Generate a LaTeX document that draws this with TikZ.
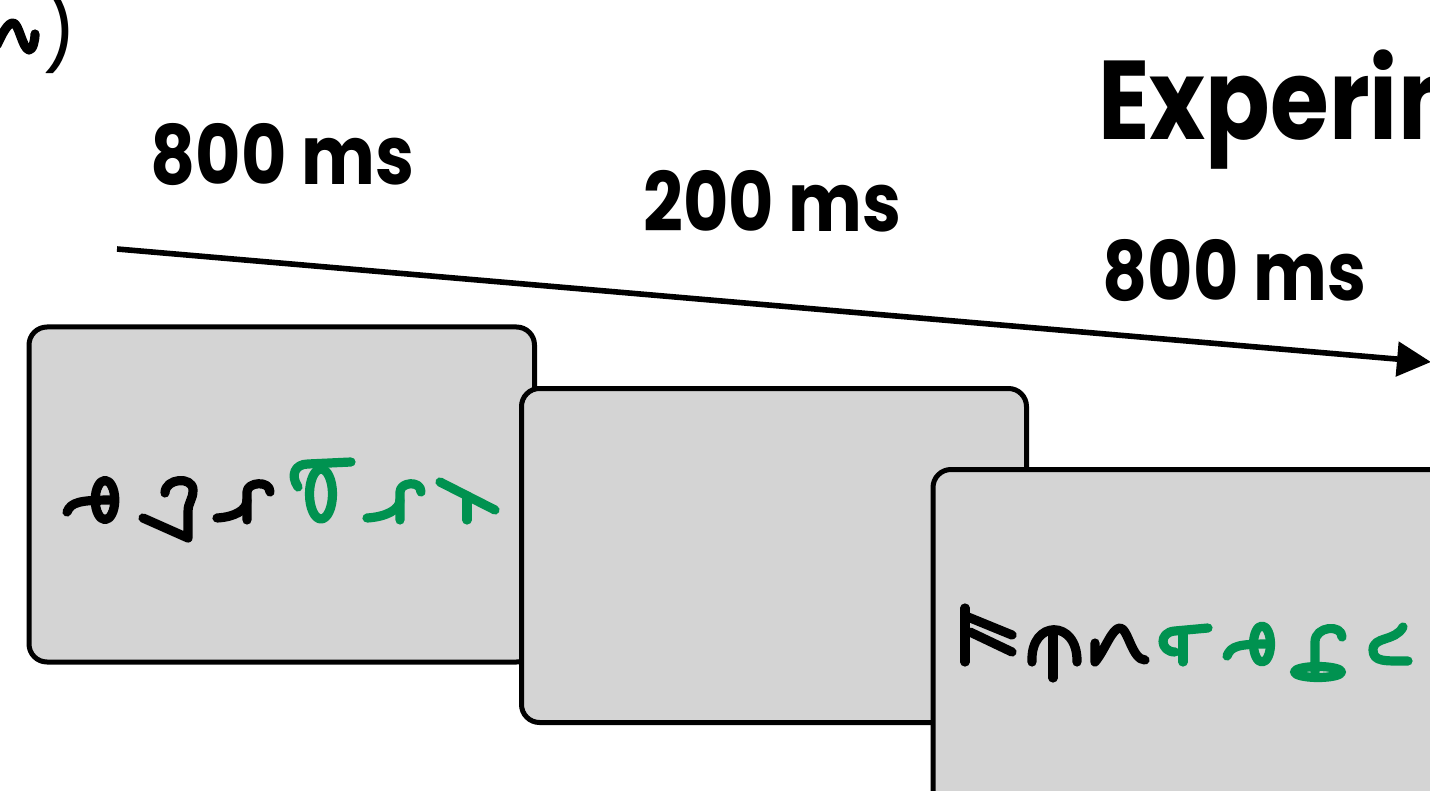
\documentclass[tikz,border=0pt]{standalone}
\usepackage{fontspec}
\setmainfont{Poppins}
\usetikzlibrary{arrows.meta}
\definecolor{screengray}{RGB}{212,212,212}
\definecolor{glyphgreen}{RGB}{0,146,80}
\newcommand{\narrow}[1]{\scalebox{0.85}[1]{#1}}
\begin{document}
\begin{tikzpicture}[x=0.5pt,y=-0.5pt,
  screen/.style={draw=black, line width=2.5pt, fill=screengray,
    rounded corners=9pt, anchor=north west, inner sep=0pt, outer sep=0pt},
  glyph/.style={line width=4.6pt, line cap=round, line join=round},
  dur/.style={font=\bfseries\fontsize{41}{41}\selectfont, anchor=base west, inner sep=0pt},
  timeline/.style={line width=2.8pt, -{Triangle[length=17pt,width=17pt]}}]
\useasboundingbox (0,0) rectangle (1430,791);
\clip (0,0) rectangle (1430,791);

% panel letter (partly cut by the frame)
\draw[glyph] (-3,45) .. controls (3,32) and (8,23) .. (13,23)
  .. controls (19,23) and (22,48) .. (29,50) .. controls (33,50) and (35,40) .. (35,34);
\node[font=\fontsize{38}{38}\selectfont, anchor=base west, inner sep=0pt] (paren) at (42,60) {)};

% heading and durations
\node[dur, font=\bfseries\fontsize{56}{56}\selectfont] (title) at (1098,140) {\narrow{Experim}};
\node[dur] (dur1) at (150,185) {\narrow{800 ms}};
\node[dur] (dur2) at (643,232) {\narrow{200 ms}};
\node[dur] (dur3) at (1102,300) {\narrow{800 ms}};

% time axis
\coordinate (tstart) at (117,249);
\coordinate (tend) at (1431,362);
\draw[timeline] (tstart) -- (tend);

% three screens, each laid over the previous one
\node[screen, minimum width=252.75pt, minimum height=167.5pt] (screen1) at (29,327) {};
\node[screen, minimum width=252.5pt, minimum height=167pt] (screen2) at (521.5,388.5) {};
\node[screen, minimum width=280pt, minimum height=200pt] (screen3) at (933,469.5) {};

% first screen: pseudo-letter string
\begin{scope}[glyph]
  \draw (105,500) ellipse [x radius=4.9pt, y radius=9.8pt];
  \draw (67,512) .. controls (71,502) and (80,500) .. (114,500);
  \draw (165,493) .. controls (165,478) and (193,476) .. (193,490)
    .. controls (193,500) and (188,502) .. (188,512) -- (188,538) -- (143,518);
  \draw (247,520) -- (247,492) .. controls (247,482) and (270,480) .. (270,492);
  \draw (217,518) .. controls (235,517) and (247,510) .. (247,500);
\end{scope}
\begin{scope}[glyph, draw=glyphgreen]
  \draw (321,494) ellipse [x radius=5.75pt, y radius=12.5pt];
  \draw (298,487) .. controls (290,475) and (295,464) .. (308,464) -- (351,462);
  \draw (400,520) -- (400,492) .. controls (400,482) and (421,480) .. (421,492);
  \draw (367,518) .. controls (385,517) and (400,510) .. (400,500);
  \draw (440,482) -- (495,510);
  \draw (467,496) -- (467,520);
\end{scope}

% third screen: pseudo-letter string
\begin{scope}[glyph]
  \draw (965,608) -- (965,662);
  \draw (968,617) -- (1012,635);
  \draw (970,632) -- (1012,652);
  \draw (1032,662) .. controls (1030,619) and (1078,619) .. (1077,662);
  \draw (1053,630) -- (1053,678);
  \draw (1095,643) -- (1095,662) .. controls (1105,650) and (1112,628) .. (1120,628)
    .. controls (1128,628) and (1132,660) .. (1145,660);
\end{scope}
\begin{scope}[glyph, draw=glyphgreen]
  \draw (1175,652) .. controls (1160,652) and (1158,632) .. (1175,631) -- (1208,628);
  \draw (1183,631) -- (1183,662);
  \draw (1262,644) ellipse [x radius=4.25pt, y radius=9pt];
  \draw (1227,656) .. controls (1231,646) and (1238,644) .. (1270,644);
  \draw (1318,672) ellipse [x radius=11.75pt, y radius=2.75pt];
  \draw (1315,672) -- (1315,642) .. controls (1315,626) and (1342,624) .. (1342,637);
  \draw (1403,627) .. controls (1395,642) and (1373,636) .. (1373,650)
    .. controls (1373,662) and (1385,661) .. (1408,661);
\end{scope}
\end{tikzpicture}
\end{document}
